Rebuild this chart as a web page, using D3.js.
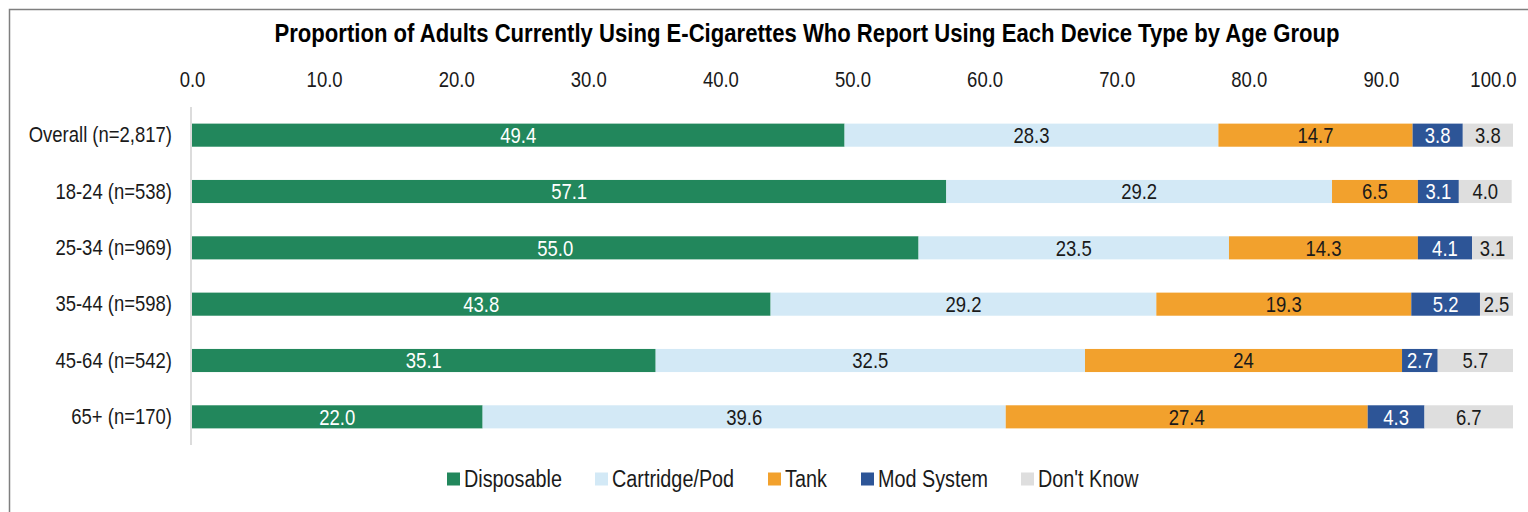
<!DOCTYPE html>
<html><head><meta charset="utf-8">
<script src="https://cdn.jsdelivr.net/npm/d3@7"></script>
<style>
body{margin:0;background:#fff;}
svg text{font-family:"Liberation Sans Narrow","Arial Narrow","Liberation Sans",Arial,sans-serif;}
</style></head>
<body><svg id="c" width="1528" height="512"></svg>
<script>
const title = "Proportion of Adults Currently Using E-Cigarettes Who Report Using Each Device Type by Age Group";
const categories = ["Overall (n=2,817)","18-24 (n=538)","25-34 (n=969)","35-44 (n=598)","45-64 (n=542)","65+ (n=170)"];
const seriesNames = ["Disposable","Cartridge/Pod","Tank","Mod System","Don't Know"];
const disposable = [49.4,57.1,55.0,43.8,35.1,22.0];
const cartridgePod = [28.3,29.2,23.5,29.2,32.5,39.6];
const tank = [14.7,6.5,14.3,19.3,24,27.4];
const modSystem = [3.8,3.1,4.1,5.2,2.7,4.3];
const dontKnow = [3.8,4.0,3.1,2.5,5.7,6.7];
const labelText = {
  "Disposable": ["49.4","57.1","55.0","43.8","35.1","22.0"],
  "Cartridge/Pod": ["28.3","29.2","23.5","29.2","32.5","39.6"],
  "Tank": ["14.7","6.5","14.3","19.3","24","27.4"],
  "Mod System": ["3.8","3.1","4.1","5.2","2.7","4.3"],
  "Don't Know": ["3.8","4.0","3.1","2.5","5.7","6.7"]
};
const tickValues = [0,10,20,30,40,50,60,70,80,90,100];
const colors = ["#22875C","#D3E9F6","#F2A12D","#2D5597","#DEDEDE"];
const labelColors = ["#ffffff","#1a1a1a","#1a1a1a","#ffffff","#1a1a1a"];

const seriesData = [disposable,cartridgePod,tank,modSystem,dontKnow];
const rows = categories.map((c,i)=>{const o={cat:c}; seriesNames.forEach((s,j)=>o[s]=seriesData[j][i]); return o;});
const stack = d3.stack().keys(seriesNames)(rows);

// emulate a condensed (narrow) typeface
function condense(sel, f){
  sel.each(function(){
    const w = this.getComputedTextLength();
    d3.select(this).attr("textLength", (w*f).toFixed(1)).attr("lengthAdjust","spacingAndGlyphs");
  });
}

const svg = d3.select("#c");
svg.append("path").attr("d","M9.5,530 V9.5 H1540").attr("fill","none").attr("stroke","#7f7f7f").attr("stroke-width",1.5);

const x = d3.scaleLinear().domain([0,100]).range([192,1513]);
const y = d3.scaleBand().domain(categories).range([107,445]).paddingInner(0.59).paddingOuter(0.295);

const t = svg.append("text").attr("x",807).attr("y",42).attr("text-anchor","middle")
  .attr("font-size",26).attr("font-weight","bold").attr("fill","#000").text(title);
condense(t, 0.85);

const ax = svg.append("g").attr("transform","translate(0,87)")
  .call(d3.axisTop(x).tickValues(tickValues).tickFormat(d=>d3.format(".1f")(d)).tickSize(0).tickPadding(0));
ax.select(".domain").remove();
ax.selectAll("text").attr("font-size",22).attr("fill","#1a1a1a").attr("font-family",null)
  .attr("dy",0).attr("dx",d=>d===100?-20:0);
condense(ax.selectAll("text"), 0.84);

const ay = svg.append("g").attr("transform","translate(191,0)")
  .call(d3.axisLeft(y).tickSize(0).tickPadding(19));
ay.select(".domain").attr("stroke","#d0d0d0").attr("stroke-width",1.5).attr("d","M0,107V445");
ay.selectAll("text").attr("font-size",22).attr("fill","#1a1a1a").attr("font-family",null);
condense(ay.selectAll("text"), 0.84);

const g = svg.append("g");
stack.forEach((layer,j)=>{
  const lg = g.append("g");
  lg.selectAll("rect").data(layer).enter().append("rect")
    .attr("x",d=>x(d[0])).attr("width",d=>x(d[1])-x(d[0]))
    .attr("y",d=>y(d.data.cat)).attr("height",y.bandwidth())
    .attr("fill",colors[j]);
  const lt = lg.selectAll("text").data(layer).enter().append("text")
    .attr("x",d=>(x(d[0])+x(d[1]))/2).attr("y",d=>y(d.data.cat)+y.bandwidth()/2)
    .attr("dy","0.36em").attr("text-anchor","middle").attr("font-size",22)
    .attr("fill",labelColors[j]).text((d,i)=>labelText[seriesNames[j]][i]);
  condense(lt, 0.84);
});

const legendX = [447,595,768,861,1021];
const lgd = svg.append("g").attr("transform","translate(0,479)");
seriesNames.forEach((s,j)=>{
  lgd.append("rect").attr("x",legendX[j]).attr("y",-6.5).attr("width",13).attr("height",13).attr("fill",colors[j]);
  const tx = lgd.append("text").attr("x",legendX[j]+17).attr("y",0).attr("dy","0.36em").attr("font-size",23)
    .attr("fill","#1a1a1a").text(s);
  condense(tx, 0.86);
});
</script></body></html>
